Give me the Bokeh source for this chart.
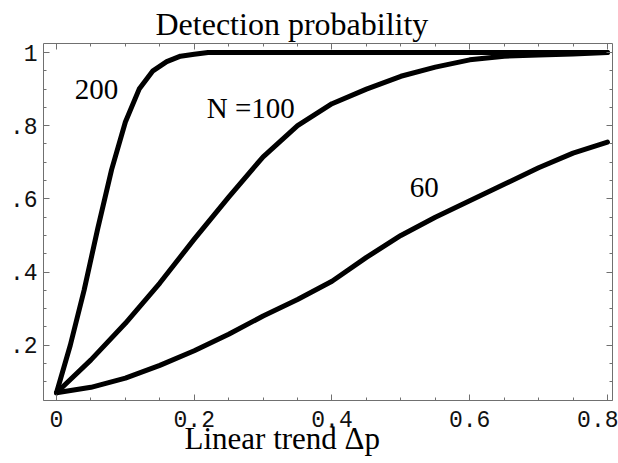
from bokeh.plotting import figure
from bokeh.models import FixedTicker, LinearAxis, Range1d, Title
from bokeh.embed import file_html
from bokeh.resources import INLINE
from bokeh.core.properties import value

# ---- data ----
x200 = [0.0, 0.02, 0.04, 0.06, 0.08, 0.10, 0.12, 0.14, 0.16, 0.18, 0.20, 0.22,
        0.3, 0.4, 0.5, 0.6, 0.7, 0.8]
y200 = [0.07, 0.20, 0.35, 0.52, 0.68, 0.81, 0.90, 0.95, 0.975, 0.99, 0.995, 1.0,
        1.0, 1.0, 1.0, 1.0, 1.0, 1.0]

x100 = [0.0, 0.05, 0.10, 0.15, 0.20, 0.25, 0.30, 0.35, 0.40, 0.45, 0.50, 0.55,
        0.60, 0.65, 0.70, 0.75, 0.80]
y100 = [0.07, 0.16, 0.26, 0.37, 0.49, 0.605, 0.715, 0.80, 0.86, 0.90, 0.935, 0.96,
        0.98, 0.99, 0.993, 0.996, 1.0]

x60 = [0.0, 0.05, 0.10, 0.15, 0.20, 0.25, 0.30, 0.35, 0.40, 0.45, 0.50, 0.55,
       0.60, 0.65, 0.70, 0.75, 0.80]
y60 = [0.07, 0.085, 0.11, 0.145, 0.185, 0.23, 0.28, 0.325, 0.375, 0.44, 0.50, 0.55,
       0.595, 0.64, 0.685, 0.725, 0.755]

curve_labels = ["200", "N =100", "60"]
curve_label_x = [0.058, 0.282, 0.534]
curve_label_y = [0.900, 0.848, 0.632]

x_ticks = [0.0, 0.2, 0.4, 0.6, 0.8]
x_tick_labels = ["0", "0.2", "0.4", "0.6", "0.8"]
y_ticks = [0.2, 0.4, 0.6, 0.8, 1.0]
y_tick_labels = [".2", ".4", ".6", ".8", "1"]

title_text = "Detection probability"
xlabel_text = "Linear trend \u0394p"

# ---- figure ----
W, H = 618, 463
p = figure(width=W, height=H, output_backend="svg", toolbar_location=None,
           x_range=Range1d(-0.0189, 0.8073), y_range=Range1d(0.049, 1.0246),
           x_axis_type=None, y_axis_type=None,
           min_border_left=43, min_border_right=6, min_border_top=43, min_border_bottom=63)
p.title.visible = False
p.outline_line_color = None
p.xgrid.visible = False
p.ygrid.visible = False
p.background_fill_color = "white"
p.border_fill_color = "white"

minor_x = [round(0.05 * i, 2) for i in range(0, 17)]
minor_y = [round(0.05 * i, 2) for i in range(1, 21)]

frame_col = "#707070"

def style_axis(ax, show_labels):
    ax.axis_line_color = frame_col
    ax.axis_line_width = 1
    ax.major_tick_line_color = frame_col
    ax.minor_tick_line_color = frame_col
    ax.major_tick_in = 6
    ax.major_tick_out = 0
    ax.minor_tick_in = 3
    ax.minor_tick_out = 0
    if show_labels:
        ax.major_label_text_font = "Liberation Mono"
        ax.major_label_text_font_size = "23px"
        ax.major_label_text_color = "#111111"
        ax.major_label_standoff = 10
    else:
        ax.major_label_text_font_size = "0px"
        ax.major_label_text_alpha = 0
        ax.major_label_standoff = 0

xb = LinearAxis(ticker=FixedTicker(ticks=x_ticks, minor_ticks=minor_x),
                major_label_overrides={t: s for t, s in zip(x_ticks, x_tick_labels)})
style_axis(xb, True)
p.add_layout(xb, "below")

xt = LinearAxis(ticker=FixedTicker(ticks=x_ticks, minor_ticks=minor_x))
style_axis(xt, False)
p.add_layout(xt, "above")

yl = LinearAxis(ticker=FixedTicker(ticks=y_ticks, minor_ticks=minor_y),
                major_label_overrides={t: s for t, s in zip(y_ticks, y_tick_labels)})
style_axis(yl, True)
yl.major_label_standoff = 6
p.add_layout(yl, "left")

yr = LinearAxis(ticker=FixedTicker(ticks=y_ticks, minor_ticks=minor_y))
style_axis(yr, False)
p.add_layout(yr, "right")

# ---- curves ----
for xs, ys in [(x200, y200), (x100, y100), (x60, y60)]:
    p.line(xs, ys, line_color="black", line_width=5, line_join="round", line_cap="round")

p.text(x=curve_label_x, y=curve_label_y, text=curve_labels,
       text_font=value("Liberation Serif"), text_font_size="29px",
       text_align="center", text_baseline="middle", text_color="black")

# ---- titles ----
top_title = Title(text=title_text, align="left", offset=112, standoff=3,
                  text_font="Liberation Serif", text_font_size="32px",
                  text_font_style="normal", text_color="black")
p.add_layout(top_title, "above")

bottom_title = Title(text=xlabel_text, align="left", offset=141, standoff=-22,
                     vertical_align="bottom",
                     text_font="Liberation Serif", text_font_size="31px",
                     text_font_style="normal", text_color="black")
p.add_layout(bottom_title, "below")

open("out.html", "w").write(file_html(p, INLINE))
